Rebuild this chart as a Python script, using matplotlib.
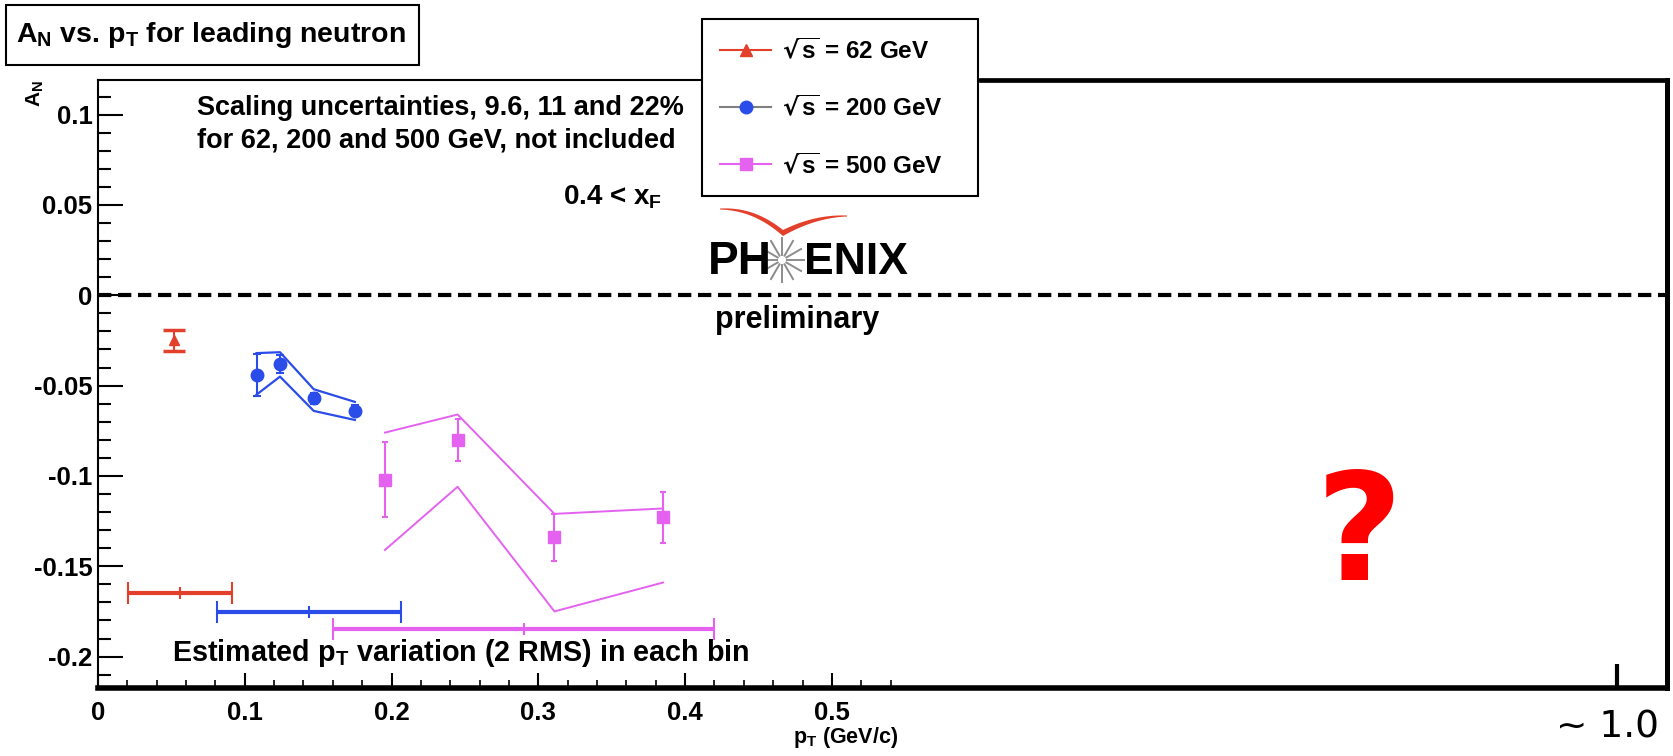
import numpy as np
import matplotlib
matplotlib.use("Agg")
import matplotlib.pyplot as plt
import matplotlib.transforms as mtransforms
from matplotlib.lines import Line2D
from matplotlib.patches import Rectangle, Polygon

W, H = 1673, 756

# sqrt(s) = 62 GeV
pt_62 = [0.052]
an_62 = [-0.025]
err_62 = [0.006]

# sqrt(s) = 200 GeV
pt_200 = [0.108, 0.124, 0.147, 0.175]
an_200 = [-0.044, -0.038, -0.057, -0.064]
err_200 = [0.0115, 0.005, 0.003, 0.003]
sys_hi_200 = [-0.032, -0.0315, -0.052, -0.059]
sys_lo_200 = [-0.055, -0.045, -0.064, -0.069]

# sqrt(s) = 500 GeV
pt_500 = [0.1955, 0.245, 0.311, 0.385]
an_500 = [-0.102, -0.080, -0.134, -0.123]
err_500 = [0.021, 0.0115, 0.013, 0.014]
sys_hi_500 = [-0.076, -0.066, -0.121, -0.118]
sys_lo_500 = [-0.141, -0.106, -0.175, -0.159]

# estimated pT spread (2 RMS) for each energy
spread_center = [0.056, 0.1437, 0.290]
spread_half = [0.0354, 0.0628, 0.130]
spread_level = [-0.165, -0.1755, -0.185]

energies = ["62", "200", "500"]
c_red, c_blue, c_mag = "#e2402b", "#2a4ce8", "#e462ef"
spread_colors = [c_red, c_blue, c_mag]

ROOT_FONT = ["Liberation Sans Narrow", "Liberation Sans", "DejaVu Sans"]
plt.rcParams["font.family"] = ROOT_FONT
plt.rcParams["font.weight"] = "bold"
plt.rcParams["mathtext.default"] = "regular"

fig = plt.figure(figsize=(W / 100, H / 100), dpi=100)
# pixel coordinates, origin at the top-left corner of the image
PX = mtransforms.Affine2D().scale(1 / W, -1 / H).translate(0, 1) + fig.transFigure

ax = fig.add_axes([98 / W, 1 - 688 / H, (1667 - 98) / W, (688 - 80) / H])
ax.set_xlim(0, 1.069)
ax.set_ylim(-0.2174, 0.1192)

# zero line
ax.axhline(0, color="black", lw=3, ls=(0, (3.2, 1.6)), zorder=1)

# systematic bands
ax.plot(pt_200, sys_hi_200, color=c_blue, lw=1.6)
ax.plot(pt_200, sys_lo_200, color=c_blue, lw=1.6)
ax.plot(pt_500, sys_hi_500, color=c_mag, lw=1.4)
ax.plot(pt_500, sys_lo_500, color=c_mag, lw=1.4)

# data points
ax.errorbar(pt_62, an_62, yerr=err_62, fmt="^", ms=7, color=c_red,
            elinewidth=1.5, capsize=8, capthick=2.5)
ax.errorbar(pt_200, an_200, yerr=err_200, fmt="o", ms=9, color=c_blue,
            elinewidth=1.5, capsize=3, capthick=1.5)
ax.errorbar(pt_500, an_500, yerr=err_500, fmt="s", ms=9, color=c_mag,
            elinewidth=1.5, capsize=2, capthick=1.5)

# pT spread bars
for xc, hw, yl, col in zip(spread_center, spread_half, spread_level, spread_colors):
    ax.errorbar(xc, yl, xerr=hw, fmt="|", ms=9, mew=1.5, color=col,
                elinewidth=3, capsize=8, capthick=2)

# axes frame
ax.spines["left"].set_linewidth(1.5)
ax.spines["top"].set_linewidth(1.5)
ax.spines["bottom"].set_linewidth(4)
ax.spines["right"].set_linewidth(3.6)
ax.plot([0.6018, 1.069], [1, 1], color="black", lw=3.4, clip_on=False,
        transform=ax.get_xaxis_transform(), solid_capstyle="projecting", zorder=3)

# ticks
yt = [-0.2, -0.15, -0.1, -0.05, 0, 0.05, 0.1]
ax.set_yticks(yt)
ax.set_yticklabels(["-0.2", "-0.15", "-0.1", "-0.05", "0", "0.05", "0.1"])
ax.set_yticks(np.arange(-0.21, 0.115, 0.01), minor=True)
xt = [0, 0.1, 0.2, 0.3, 0.4, 0.5, 1.035]
ax.set_xticks(xt)
ax.set_xticklabels(["0", "0.1", "0.2", "0.3", "0.4", "0.5", "~ 1.0"])
ax.set_xticks([v for v in np.arange(0.02, 0.555, 0.02)
               if abs(v * 10 - round(v * 10)) > 1e-6], minor=True)
ax.tick_params(axis="y", which="major", direction="in", length=18, width=1.5,
               labelsize=18.5, pad=4)
ax.tick_params(axis="y", which="minor", direction="in", length=9, width=1.5)
ax.tick_params(axis="x", which="major", direction="in", length=11, width=1.5,
               labelsize=18.5, pad=9)
ax.tick_params(axis="x", which="minor", direction="in", length=6, width=1.2)

far = ax.xaxis.get_major_ticks()[-1]
far.tick1line.set_markersize(17)
far.tick1line.set_markeredgewidth(3)
far.label1.set_fontfamily("DejaVu Sans")
far.label1.set_fontweight("normal")
far.label1.set_fontsize(27)
far.label1.set_transform(far.label1.get_transform() + mtransforms.ScaledTranslation(
    -0.10, -0.09, fig.dpi_scale_trans))

# legend
handles = [
    Line2D([], [], color=c_red, marker="^", ms=9, lw=1.5),
    Line2D([], [], color="#808080", marker="o", mfc=c_blue, mec=c_blue, ms=9, lw=1.5),
    Line2D([], [], color=c_mag, marker="s", ms=9, lw=1.5),
]
labels = [r"$\sqrt{s}$ = %s GeV" % e for e in energies]
leg = ax.legend(handles, labels, loc="upper left", mode="expand",
                bbox_to_anchor=(702 / W, 1 - 19 / H - 0.01, (978 - 702) / W, 0.01),
                bbox_transform=fig.transFigure, borderaxespad=0,
                fancybox=False, framealpha=1, edgecolor="black",
                fontsize=17.5, labelspacing=1.3, borderpad=0.75,
                handlelength=2.1, handletextpad=0.45)
leg.get_frame().set_linewidth(1.5)
leg.set_zorder(10)

# texts
fig.add_artist(Rectangle((6, 65), 413, -60, transform=PX, facecolor="white",
                         edgecolor="black", lw=1.5))
fig.text(16, 35, r"A$_N$ vs. p$_T$ for leading neutron", transform=PX,
         fontsize=20.5, va="center", ha="left")
fig.text(35, 80, r"A$_N$", transform=PX, rotation=90, fontsize=15,
         ha="center", va="top")
fig.text(197, 108, "Scaling uncertainties, 9.6, 11 and 22%", transform=PX,
         fontsize=19.5, va="center")
fig.text(197, 140, "for 62, 200 and 500 GeV, not included", transform=PX,
         fontsize=19.5, va="center")
fig.text(563, 197, r"0.4 < x$_F$", transform=PX, fontsize=20, va="center")
fig.text(172, 653, r"Estimated p$_T$ variation (2 RMS) in each bin",
         transform=PX, fontsize=20.7, va="center")
fig.text(898, 737, r"p$_T$ (GeV/c)", transform=PX, fontsize=15.5,
         va="center", ha="right")

# PHENIX logo
fig.text(708, 262, "PH", transform=PX, fontsize=33, va="center", ha="left")
fig.text(804, 262, "ENIX", transform=PX, fontsize=32, va="center", ha="left")
for a in np.linspace(0, 2 * np.pi, 12, endpoint=False):
    fig.add_artist(Line2D([782 + 5 * np.cos(a), 782 + 22 * np.cos(a)],
                          [260 + 5 * np.sin(a), 260 + 22 * np.sin(a)],
                          transform=PX, color="#8c8c8c", lw=1.4))
t = np.linspace(0, 1, 30)
lx, ly, lw_ = 720 + 63 * t, 209 + 24 * t ** 2.2, 1 + 5 * t
rx, ry, rw = 783 + 64 * t, 233 - 17 * (1 - (1 - t) ** 2), 6 - 5 * t
xs = np.concatenate([lx, rx, rx[::-1], lx[::-1]])
ys = np.concatenate([ly - lw_ / 2, ry - rw / 2, (ry + rw / 2)[::-1], (ly + lw_ / 2)[::-1]])
fig.add_artist(Polygon(np.column_stack([xs, ys]), closed=True, transform=PX,
                       facecolor="#e2402b", edgecolor="none"))
fig.text(797, 320, "preliminary", transform=PX, fontsize=22, va="center",
         ha="center")

fig.text(1359, 538, "?", transform=PX, fontsize=108, color="#ff0000",
         family="DejaVu Sans", weight="bold", ha="center", va="center")

fig.savefig("out.png", dpi=100)
